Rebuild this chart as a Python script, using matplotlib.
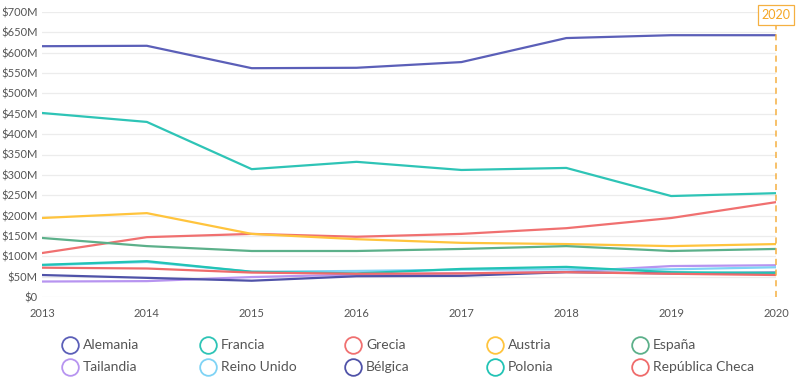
import matplotlib
matplotlib.use("Agg")
import matplotlib.pyplot as plt
from matplotlib.lines import Line2D

years = [2013, 2014, 2015, 2016, 2017, 2018, 2019, 2020]

alemania = [616, 617, 562, 563, 577, 636, 643, 643]
francia = [452, 430, 314, 332, 312, 317, 248, 255]
grecia = [108, 147, 155, 148, 155, 169, 194, 233]
austria = [194, 206, 155, 142, 133, 130, 125, 130]
espana = [145, 125, 113, 113, 118, 125, 113, 118]
tailandia = [38, 39, 49, 55, 58, 62, 76, 78]
reino_unido = [78, 86, 62, 64, 67, 68, 68, 73]
belgica = [54, 47, 40, 51, 52, 61, 58, 60]
polonia = [79, 88, 62, 58, 69, 74, 61, 59]
rep_checa = [72, 70, 60, 57, 58, 61, 57, 54]

names = ["Alemania", "Francia", "Grecia", "Austria", "España",
         "Tailandia", "Reino Unido", "Bélgica", "Polonia", "República Checa"]
series = [alemania, francia, grecia, austria, espana,
          tailandia, reino_unido, belgica, polonia, rep_checa]
colors = ["#5b5fb8", "#2ec4b6", "#f07070", "#ffc43d", "#5cb08a",
          "#b794f0", "#7fd3f5", "#4f52a8", "#22c3b5", "#ef6b6b"]

yticks = list(range(0, 701, 50))
ytick_labels = ["$0"] + [f"${v}M" for v in yticks[1:]]

plt.rcParams["font.family"] = ["Lato", "DejaVu Sans"]

fig = plt.figure(figsize=(7.96, 3.83), dpi=100)
ax = fig.add_axes([42 / 796, 1 - 297 / 383, (776 - 42) / 796, (297 - 12) / 383])

for vals, c in zip(series, colors):
    ax.plot(years, vals, color=c, lw=1.6, solid_joinstyle="round", zorder=3)

ax.set_xlim(2013, 2020)
ax.set_ylim(0, 700)
ax.set_xticks(years)
ax.set_xticklabels([str(y) for y in years])
ax.set_yticks(yticks)
ax.set_yticklabels(ytick_labels)
ax.tick_params(axis="both", length=0, labelsize=8, colors="#555555")
ax.tick_params(axis="y", pad=3)
ax.tick_params(axis="x", pad=8)
for s in ax.spines.values():
    s.set_visible(False)
ax.grid(axis="y", color="#ececec", lw=0.9, zorder=0)
ax.grid(axis="x", visible=False)

ax.axvline(2020, color="#f5b041", lw=1.1, ls=(0, (4, 3)), zorder=4, clip_on=False)
ax.annotate("2020", xy=(2020, 700), xytext=(0, 2), textcoords="offset points",
            color="#f5a623", fontsize=9, ha="center", va="top",
            bbox=dict(boxstyle="square,pad=0.3", fc="white", ec="#f5b041", lw=0.9),
            zorder=5, annotation_clip=False)

col_x = [70, 208, 353, 495, 640]
row_y = [345, 367]
for i, (n, c) in enumerate(zip(names, colors)):
    r, k = divmod(i, 5)
    xf = col_x[k] / 796
    yf = 1 - row_y[r] / 383
    fig.add_artist(Line2D([xf], [yf], transform=fig.transFigure, marker="o",
                          markersize=12, markerfacecolor="none",
                          markeredgecolor=c, markeredgewidth=1.3, linestyle="none"))
    fig.text(xf + 13 / 796, yf, n, fontsize=10, color="#555555", va="center", ha="left")

fig.savefig("out.png", dpi=100)
